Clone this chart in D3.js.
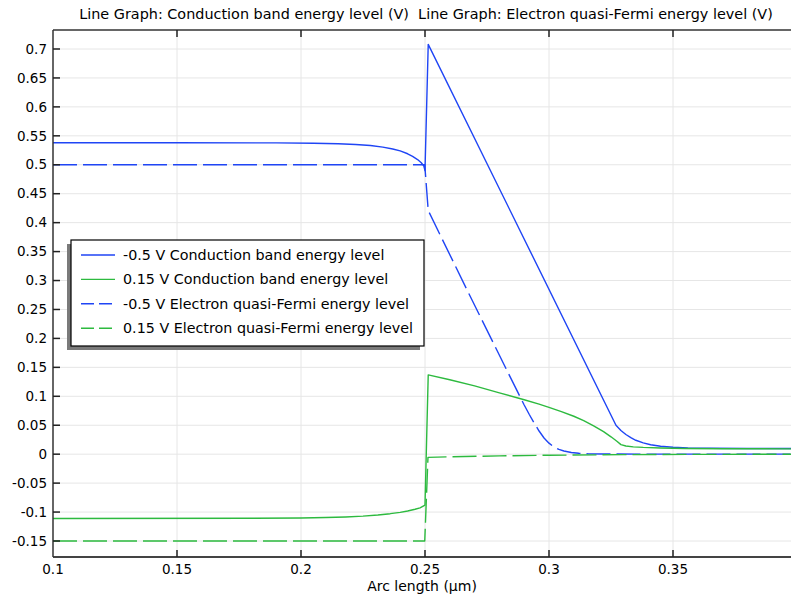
<!DOCTYPE html>
<html>
<head>
<meta charset="utf-8">
<title>Conduction band and electron quasi-Fermi energy level</title>
<script src="https://d3js.org/d3.v7.min.js"></script>
<style>
    body { margin: 0; background: #fff; }
    svg { display: block; font-family: "DejaVu Sans", sans-serif; }
    .grid line { stroke: #e6e6e6; stroke-width: 1; }
    .tick-label { font-size: 13.5px; fill: #000; }
    .series { fill: none; stroke-width: 1.4; stroke-linejoin: round; }
</style>
</head>
<body>
<div id="chart"></div>
<script>
// ---- data (x in µm, y in V) ----
const xTicks = [0.1, 0.15, 0.2, 0.25, 0.3, 0.35];
const yTicks = [-0.15, -0.1, -0.05, 0, 0.05, 0.1, 0.15, 0.2, 0.25, 0.3, 0.35, 0.4, 0.45, 0.5, 0.55, 0.6, 0.65, 0.7];

// -0.5 V conduction band energy level
const cbNeg05 = [
    [0.1, 0.538], [0.15, 0.538], [0.19, 0.5378], [0.205, 0.5372], [0.215, 0.5362],
    [0.222, 0.535], [0.228, 0.5332], [0.233, 0.5305], [0.237, 0.5272], [0.24, 0.524],
    [0.243, 0.519], [0.245, 0.5145], [0.247, 0.509], [0.2485, 0.5035], [0.2495, 0.498],
    [0.25, 0.49], [0.2513, 0.708], [0.327, 0.05], [0.329, 0.041], [0.331, 0.034],
    [0.333, 0.0285], [0.335, 0.024], [0.338, 0.0195], [0.341, 0.0163], [0.345, 0.0137],
    [0.35, 0.012], [0.356, 0.0109], [0.365, 0.0102], [0.38, 0.0099], [0.4, 0.0098]
];
// 0.15 V conduction band energy level
const cb015 = [
    [0.1, -0.111], [0.18, -0.1108], [0.2, -0.1102], [0.21, -0.1095], [0.218, -0.1085],
    [0.225, -0.107], [0.231, -0.105], [0.236, -0.1028], [0.24, -0.1005], [0.243, -0.0982],
    [0.246, -0.0952], [0.248, -0.0928], [0.25, -0.088], [0.2513, 0.137], [0.26, 0.1285],
    [0.27, 0.118], [0.28, 0.106], [0.29, 0.094], [0.296, 0.0865], [0.3, 0.081],
    [0.305, 0.0735], [0.31, 0.0655], [0.314, 0.058], [0.318, 0.049], [0.322, 0.039],
    [0.325, 0.03], [0.3275, 0.022], [0.329, 0.0165], [0.331, 0.0142], [0.334, 0.0127],
    [0.338, 0.0117], [0.345, 0.0107], [0.355, 0.0099], [0.37, 0.0094], [0.4, 0.0092]
];
// -0.5 V electron quasi-Fermi energy level
const qfNeg05 = [
    [0.1, 0.5], [0.2499, 0.5], [0.2513, 0.421], [0.266, 0.292], [0.2823, 0.151],
    [0.29, 0.085], [0.292, 0.069], [0.294, 0.054], [0.296, 0.04], [0.298, 0.028],
    [0.3, 0.019], [0.302, 0.0125], [0.304, 0.0082], [0.306, 0.0055], [0.309, 0.003],
    [0.312, 0.0015], [0.316, 0.0006], [0.322, 0.0002], [0.4, 0]
];
// 0.15 V electron quasi-Fermi energy level
const qf015 = [
    [0.1, -0.15], [0.2499, -0.15], [0.2512, -0.0055], [0.26, -0.0045], [0.28, -0.003],
    [0.3, -0.0018], [0.33, -0.0008], [0.36, -0.0003], [0.4, -0.0002]
];

const seriesNames = [
    "-0.5 V Conduction band energy level",
    "0.15 V Conduction band energy level",
    "-0.5 V Electron quasi-Fermi energy level",
    "0.15 V Electron quasi-Fermi energy level"
];
const seriesData = [cbNeg05, cb015, qfNeg05, qf015];
const seriesColors = ["#1f45f5", "#2dba3f", "#1f45f5", "#2dba3f"];
const seriesDashed = [false, false, true, true];

const titleText = "Line Graph: Conduction band energy level (V)  Line Graph: Electron quasi-Fermi energy level (V)";
const xLabel = "Arc length (µm)";

// ---- layout ----
const width = 791, height = 599;
const plotLeft = 53, plotTop = 30, plotBottom = 557, plotRight = 797;

const svg = d3.select("#chart").append("svg")
    .attr("width", width)
    .attr("height", height);

const x = d3.scaleLinear().domain([0.1, 0.4]).range([plotLeft, plotRight]);
const y = d3.scaleLinear().domain([-0.15, 0.7]).range([541, 49]);

const fmt = v => Math.abs(v) < 1e-9 ? "0" : String(+v.toFixed(2));

// grid
const grid = svg.append("g").attr("class", "grid");
grid.selectAll(".gx").data(xTicks.slice(1)).enter().append("line")
    .attr("x1", d => x(d)).attr("x2", d => x(d))
    .attr("y1", plotTop).attr("y2", plotBottom);
grid.selectAll(".gy").data(yTicks).enter().append("line")
    .attr("x1", plotLeft).attr("x2", plotRight)
    .attr("y1", d => y(d)).attr("y2", d => y(d));

// series
svg.append("clipPath").attr("id", "clip")
    .append("rect").attr("x", plotLeft).attr("y", plotTop)
    .attr("width", plotRight - plotLeft).attr("height", plotBottom - plotTop);

const line = d3.line()
    .x(d => x(d[0]))
    .y(d => y(d[1]));

// dashed ones first so the solid lines sit on top
const order = [2, 3, 0, 1];
svg.append("g").attr("clip-path", "url(#clip)")
    .selectAll("path").data(order).enter().append("path")
    .attr("class", "series")
    .attr("d", i => line(seriesData[i]))
    .attr("stroke", i => seriesColors[i])
    .attr("stroke-dasharray", i => seriesDashed[i] ? "24,6" : null);

// frame
const frame = svg.append("g").attr("stroke", "#333").attr("fill", "none");
frame.append("line").attr("x1", plotLeft).attr("x2", plotRight)
    .attr("y1", plotTop).attr("y2", plotTop).attr("stroke-width", 1.5);
frame.append("line").attr("x1", plotLeft).attr("x2", plotRight)
    .attr("y1", plotBottom).attr("y2", plotBottom).attr("stroke-width", 2).attr("stroke", "#444");
frame.append("line").attr("x1", plotLeft).attr("x2", plotLeft)
    .attr("y1", plotTop).attr("y2", plotBottom).attr("stroke-width", 1.5);

// ticks (inward)
const tickG = svg.append("g").attr("stroke", "#222").attr("stroke-width", 1.5);
tickG.selectAll(".ty").data(yTicks).enter().append("line")
    .attr("x1", plotLeft).attr("x2", plotLeft + 7)
    .attr("y1", d => y(d)).attr("y2", d => y(d));
tickG.selectAll(".tb").data(xTicks.slice(1)).enter().append("line")
    .attr("x1", d => x(d)).attr("x2", d => x(d))
    .attr("y1", plotBottom).attr("y2", plotBottom - 7);
tickG.selectAll(".tt").data(xTicks.slice(1)).enter().append("line")
    .attr("x1", d => x(d)).attr("x2", d => x(d))
    .attr("y1", plotTop).attr("y2", plotTop + 7);

// tick labels
svg.selectAll(".ylab").data(yTicks).enter().append("text")
    .attr("class", "tick-label")
    .attr("x", plotLeft - 6)
    .attr("y", d => y(d))
    .attr("dy", "0.35em")
    .attr("text-anchor", "end")
    .text(fmt);
svg.selectAll(".xlab").data(xTicks).enter().append("text")
    .attr("class", "tick-label")
    .attr("x", d => x(d))
    .attr("y", 574)
    .attr("text-anchor", "middle")
    .text(fmt);

// axis title & chart title
svg.append("text")
    .attr("x", 422).attr("y", 591)
    .attr("text-anchor", "middle")
    .style("font-size", "14px")
    .text(xLabel);
svg.append("text")
    .attr("x", 426).attr("y", 19)
    .attr("text-anchor", "middle")
    .style("font-size", "14.4px")
    .style("white-space", "pre")
    .text(titleText);

// legend
const lg = svg.append("g");
const lx = 71, ly = 240, lw = 353, lh = 106;
lg.append("rect").attr("x", lx - 4).attr("y", ly + 4)
    .attr("width", lw).attr("height", lh).attr("fill", "#7a7a7a");
lg.append("rect").attr("x", lx).attr("y", ly)
    .attr("width", lw).attr("height", lh)
    .attr("fill", "#fff").attr("stroke", "#000").attr("stroke-width", 1.2);
const rows = lg.selectAll(".row").data(seriesNames).enter().append("g")
    .attr("transform", (d, i) => `translate(0,${ly + 15 + i * 24.4})`);
rows.append("line")
    .attr("x1", 81).attr("x2", 115)
    .attr("stroke", (d, i) => seriesColors[i])
    .attr("stroke-width", 1.4)
    .attr("stroke-dasharray", (d, i) => seriesDashed[i] ? "13,5" : null);
rows.append("text")
    .attr("x", 123).attr("dy", "0.35em")
    .style("font-size", "14.3px")
    .text(d => d);
</script>
</body>
</html>
